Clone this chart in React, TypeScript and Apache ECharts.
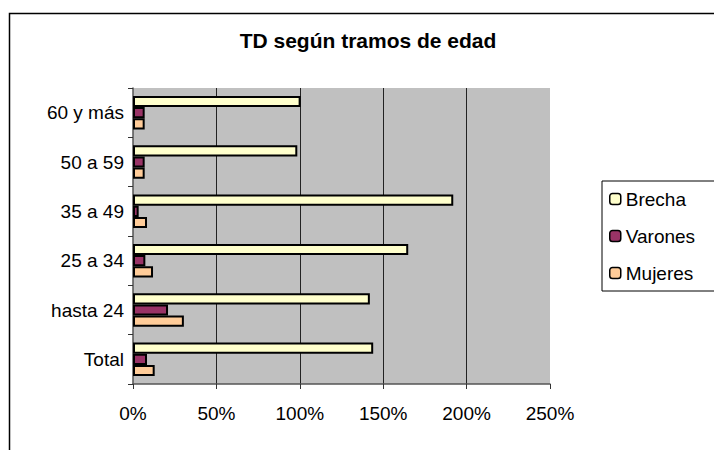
import React, { useEffect, useRef } from "react";
import * as echarts from "echarts";

const categories = ["Total", "hasta 24", "25 a 34", "35 a 49", "50 a 59", "60 y más"];
const brecha = [144, 142, 165, 192, 98.5, 100.5];
const varones = [8.4, 21, 7.4, 3.4, 7, 7];
const mujeres = [13, 30.5, 12, 8.4, 7, 7];
const legendOrder = ["Brecha", "Varones", "Mujeres"];
const titleText = "TD según tramos de edad";

const FONT = "Liberation Sans, Arial, sans-serif";

export default function App() {
  const ref = useRef<HTMLDivElement>(null);
  useEffect(() => {
    document.body.style.margin = "0";
    const chart = echarts.init(ref.current!, null, { renderer: "svg" });
    const barStyle = (color: string) => ({
      color,
      borderColor: "#000",
      borderWidth: 2,
    });
    chart.setOption({
      animation: false,
      backgroundColor: "#fff",
      title: {
        text: titleText,
        left: 368,
        textAlign: "center",
        top: 30,
        padding: 0,
        textStyle: { fontFamily: FONT, fontSize: 21, fontWeight: "bold", color: "#000" },
      },
      legend: {
        orient: "vertical",
        left: 602,
        top: 181,
        padding: [8, 40, 8, 7],
        itemWidth: 11,
        itemHeight: 11,
        itemGap: 17,
        borderColor: "#000",
        borderWidth: 1,
        data: legendOrder,
        itemStyle: { borderColor: "#000", borderWidth: 1.5 },
        textStyle: { fontFamily: FONT, fontSize: 19, color: "#000", lineHeight: 20, padding: [0, 0, 0, 0] },
      },
      grid: {
        left: 133,
        right: 164,
        top: 88,
        bottom: 66,
        show: true,
        backgroundColor: "#C0C0C0",
        borderWidth: 0,
      },
      xAxis: {
        type: "value",
        min: 0,
        max: 250,
        interval: 50,
        axisLine: { show: true, lineStyle: { color: "#555", width: 1.5 } },
        axisTick: { show: true, length: 5, lineStyle: { color: "#333" } },
        axisLabel: {
          formatter: "{value}%",
          margin: 20,
          fontFamily: FONT,
          fontSize: 19,
          color: "#000",
        },
        splitLine: {
          show: true,
          showMinLine: false,
          showMaxLine: false,
          lineStyle: { color: "#222", width: 1 },
        },
      },
      yAxis: {
        type: "category",
        data: categories,
        axisLine: { show: true, lineStyle: { color: "#555", width: 1.5 } },
        axisTick: { show: true, length: 5, lineStyle: { color: "#333" } },
        axisLabel: { margin: 9, fontFamily: FONT, fontSize: 19, color: "#000" },
        splitLine: { show: false },
      },
      series: [
        {
          name: "Brecha",
          type: "bar",
          data: brecha,
          itemStyle: barStyle("#FFFFCC"),
          barGap: "0%",
          barCategoryGap: "32%",
        },
        {
          name: "Varones",
          type: "bar",
          data: varones,
          itemStyle: barStyle("#993366"),
          barGap: "0%",
          barCategoryGap: "32%",
        },
        {
          name: "Mujeres",
          type: "bar",
          data: mujeres,
          itemStyle: barStyle("#FFCC99"),
          barGap: "0%",
          barCategoryGap: "32%",
        },
      ],
      graphic: [
        {
          type: "rect",
          left: 7,
          top: 11,
          shape: { width: 800, height: 500 },
          style: { fill: "none", stroke: "#000", lineWidth: 1.5 },
          silent: true,
          z: 100,
        },
      ],
    });
    return () => chart.dispose();
  }, []);
  return <div ref={ref} style={{ width: 714, height: 450 }} />;
}
